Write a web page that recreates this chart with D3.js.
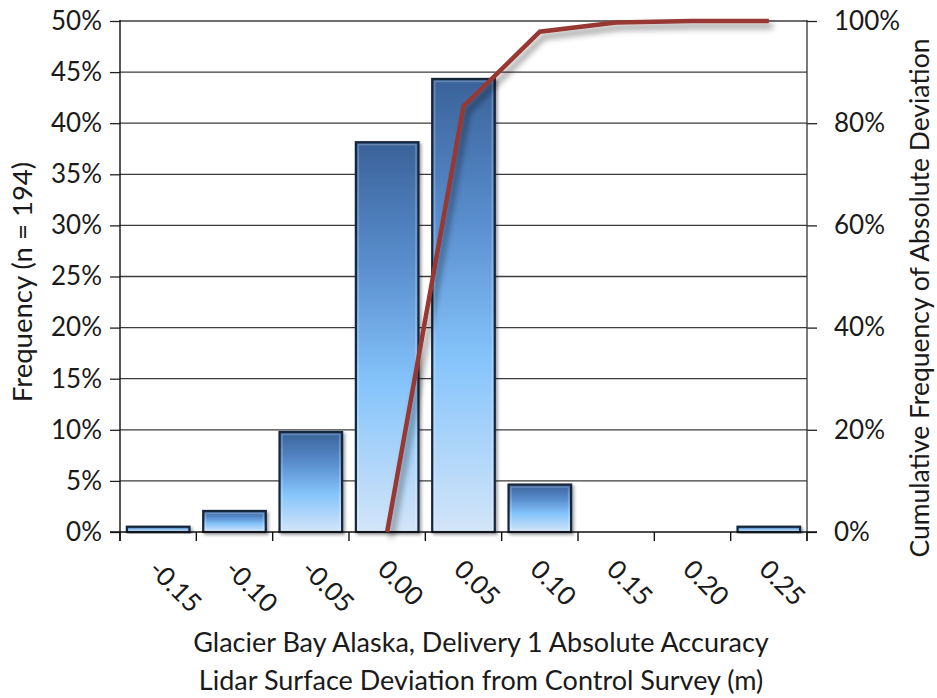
<!DOCTYPE html>
<html>
<head>
<meta charset="utf-8">
<script src="https://cdn.jsdelivr.net/npm/d3@7/dist/d3.min.js"></script>
<style>
  html, body { margin: 0; padding: 0; background: #fff; }
  svg { display: block; font-family: Lato, "Open Sans", sans-serif; }
</style>
</head>
<body>
<svg id="chart" width="937" height="698"></svg>
<script>
// Histogram bins (m) and their share of the 194 check points
const categories = ["-0.15", "-0.10", "-0.05", "0.00", "0.05", "0.10", "0.15", "0.20", "0.25"];
const frequency = [0.52, 2.06, 9.79, 38.14, 44.33, 4.64, 0, 0, 0.52];
// Cumulative frequency of absolute deviation (%), starting at the 0.00 bin
const cumulative = [null, null, null, 0, 83.3, 97.9, 99.7, 100, 100];
const leftTicks = [0, 5, 10, 15, 20, 25, 30, 35, 40, 45, 50];
const rightTicks = [0, 20, 40, 60, 80, 100];

const svg = d3.select("#chart");
const plot = { left: 120, right: 807, top: 21, bottom: 532 };

const x = d3.scaleBand().domain(categories)
  .range([plot.left, plot.right]).paddingInner(0.18).paddingOuter(0.09);
const yL = d3.scaleLinear().domain([0, 50]).range([plot.bottom, plot.top]);
const yR = d3.scaleLinear().domain([0, 100]).range([plot.bottom, plot.top]);

const defs = svg.append("defs");
const grad = defs.append("linearGradient").attr("id", "barFill")
  .attr("x1", 0).attr("y1", 0).attr("x2", 0).attr("y2", 1);
grad.append("stop").attr("offset", "0%").attr("stop-color", "#3a6299");
grad.append("stop").attr("offset", "32%").attr("stop-color", "#5a8fcf");
grad.append("stop").attr("offset", "62%").attr("stop-color", "#85c4fb");
grad.append("stop").attr("offset", "100%").attr("stop-color", "#d3e5f8");

const barShadow = defs.append("filter").attr("id", "barShadow")
  .attr("x", "-20%").attr("y", "-20%").attr("width", "150%").attr("height", "150%");
barShadow.append("feDropShadow").attr("dx", 2).attr("dy", 2).attr("stdDeviation", 1.5)
  .attr("flood-color", "#000").attr("flood-opacity", 0.35);

const lineShadow = defs.append("filter").attr("id", "lineShadow")
  .attr("x", "-20%").attr("y", "-20%").attr("width", "150%").attr("height", "150%");
lineShadow.append("feDropShadow").attr("dx", 4).attr("dy", 5).attr("stdDeviation", 3)
  .attr("flood-color", "#000").attr("flood-opacity", 0.45);

// Horizontal gridlines
svg.append("g").selectAll("line").data(leftTicks.filter(d => d > 0)).join("line")
  .attr("x1", plot.left).attr("x2", plot.right)
  .attr("y1", d => yL(d)).attr("y2", d => yL(d))
  .attr("stroke", "#3c3c3c").attr("stroke-width", 1.3);

// Left axis
const leftAxis = svg.append("g").attr("transform", `translate(${plot.left},0)`)
  .call(d3.axisLeft(yL).tickValues(leftTicks).tickFormat(d => d + "%").tickSize(10).tickPadding(8));
// Right axis
const rightAxis = svg.append("g").attr("transform", `translate(${plot.right},0)`)
  .call(d3.axisRight(yR).tickValues(rightTicks).tickFormat(d => d + "%").tickSize(10).tickPadding(17));

[leftAxis, rightAxis].forEach(g => {
  g.select(".domain").remove();
  g.selectAll(".tick line").attr("stroke", "#222").attr("stroke-width", 1.3);
  g.selectAll(".tick text").attr("font-size", 26).attr("fill", "#1a1a1a")
    .attr("font-family", "Lato, sans-serif");
});
svg.append("line").attr("x1", plot.left).attr("x2", plot.left)
  .attr("y1", plot.top - 1).attr("y2", plot.bottom + 9).attr("stroke", "#111").attr("stroke-width", 1.4);
svg.append("line").attr("x1", plot.right).attr("x2", plot.right)
  .attr("y1", plot.top - 1).attr("y2", plot.bottom + 9).attr("stroke", "#333").attr("stroke-width", 1.3);

// Bottom axis with ticks at the bin boundaries
const step = x.step();
const boundaries = d3.range(categories.length + 1).map(i => plot.left + i * step);
svg.append("g").selectAll("line").data(boundaries).join("line")
  .attr("x1", d => d).attr("x2", d => d)
  .attr("y1", plot.bottom).attr("y2", plot.bottom + 9)
  .attr("stroke", "#111").attr("stroke-width", 1.4);

// Bars
const barData = categories.map((c, i) => ({ c, v: frequency[i] })).filter(d => d.v > 0);
const bars = svg.append("g");
bars.selectAll("rect.bar").data(barData)
  .join("rect").attr("class", "bar")
  .attr("x", d => x(d.c)).attr("width", x.bandwidth())
  .attr("y", d => yL(d.v)).attr("height", d => yL(0) - yL(d.v))
  .attr("fill", "url(#barFill)")
  .attr("stroke", "#15253a").attr("stroke-width", 2.2)
  .attr("filter", "url(#barShadow)");
// Inner bevel highlight
bars.selectAll("rect.bevel").data(barData)
  .join("rect").attr("class", "bevel")
  .attr("x", d => x(d.c) + 2.5).attr("width", x.bandwidth() - 5)
  .attr("y", d => yL(d.v) + 2.5).attr("height", d => Math.max(0, yL(0) - yL(d.v) - 4))
  .attr("fill", "none").attr("stroke", "#ffffff").attr("stroke-opacity", 0.22).attr("stroke-width", 1.5);

// Baseline
svg.append("line").attr("x1", plot.left - 10).attr("x2", plot.right + 10)
  .attr("y1", plot.bottom).attr("y2", plot.bottom).attr("stroke", "#111").attr("stroke-width", 1.4);

// Cumulative line
const linePts = categories.map((c, i) => ({ c, v: cumulative[i] })).filter(d => d.v !== null);
const line = d3.line().x(d => x(d.c) + x.bandwidth() / 2).y(d => yR(d.v));
svg.append("path").datum(linePts).attr("d", line)
  .attr("fill", "none").attr("stroke", "#983733").attr("stroke-width", 4.5)
  .attr("stroke-linejoin", "miter").attr("filter", "url(#lineShadow)");

// Category labels, rotated
svg.append("g").selectAll("text").data(categories).join("text")
  .attr("transform", d => `translate(${x(d) + x.bandwidth() / 2 - 11},${plot.bottom + 39}) rotate(45)`)
  .attr("font-size", 26).attr("fill", "#1a1a1a").attr("text-anchor", "start")
  .text(d => d);

// Axis titles
svg.append("text").attr("transform", `translate(32,${282}) rotate(-90)`)
  .attr("text-anchor", "middle").attr("font-size", 27.5).attr("fill", "#1a1a1a")
  .text("Frequency (n = 194)");
svg.append("text").attr("transform", `translate(929,298) rotate(-90)`)
  .attr("text-anchor", "middle").attr("font-size", 26.5).attr("fill", "#1a1a1a")
  .text("Cumulative Frequency of Absolute Deviation");
svg.append("text").attr("x", 481).attr("y", 652)
  .attr("text-anchor", "middle").attr("font-size", 27).attr("fill", "#1a1a1a")
  .text("Glacier Bay Alaska, Delivery 1 Absolute Accuracy");
svg.append("text").attr("x", 481).attr("y", 690)
  .attr("text-anchor", "middle").attr("font-size", 27).attr("fill", "#1a1a1a")
  .text("Lidar Surface Deviation from Control Survey (m)");
</script>
</body>
</html>
